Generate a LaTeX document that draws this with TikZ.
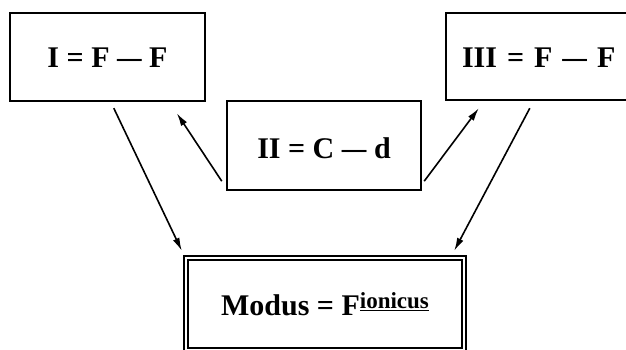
\documentclass[tikz,border=0pt]{standalone}
\usepackage{fontspec}
\setmainfont{Liberation Serif}
\usetikzlibrary{arrows.meta,calc}
\newcommand{\mdash}{\scalebox{0.82}[1]{—}}
\begin{document}
\begin{tikzpicture}[x=1pt,y=-1pt,
  box/.style={draw, line width=2.4pt, rectangle, inner sep=0pt,
    font=\fontsize{30}{30}\selectfont\bfseries, text depth=0pt},
  conn/.style={line width=1.6pt, -{Latex[length=13pt,width=7pt]}}]
\useasboundingbox (0,0) rectangle (626,349);
\fill[white] (0,0) rectangle (626,349);
\clip (0,0) rectangle (626,349);
\node[box, minimum width=195pt, minimum height=88pt, text height=20pt] (I) at (107.5,57) {I = F \mdash{} F};
\node[box, minimum width=194pt, minimum height=89pt, text height=25pt] (II) at (324,145.5) {II = C \mdash{} d};
\node[box, minimum height=87pt, text width=168pt, inner xsep=16pt, align=left, text height=21pt] (III) at (546,56.5) {III = F \mdash{} F};
\node[box, line width=2.4pt, minimum width=282pt, minimum height=96pt, text height=22pt] (M) at (325,304)
  {Modus = F\raisebox{6.5pt}{\fontsize{23}{23}\selectfont\underline{ionicus}}};
\draw[line width=2.2pt] ($(M.north west)+(5,5)$) rectangle ($(M.south east)+(-5,-5)$);
\coordinate (a1s) at ($(I.south west)+(105,6)$);
\coordinate (a1e) at ($(M.north west)+(-1,-4)$);
\coordinate (a2s) at ($(II.south west)+(-4,-10)$);
\coordinate (a2e) at ($(I.south west)+(168,11)$);
\coordinate (a3s) at ($(II.south east)+(2,-10)$);
\coordinate (a3e) at ($(III.south west)+(34,7)$);
\coordinate (a4s) at ($(III.south west)+(85,7)$);
\coordinate (a4e) at ($(M.north east)+(-13,-4)$);
\draw[conn] (a1s) -- (a1e);
\draw[conn] (a2s) -- (a2e);
\draw[conn] (a3s) -- (a3e);
\draw[conn] (a4s) -- (a4e);
\end{tikzpicture}
\end{document}
